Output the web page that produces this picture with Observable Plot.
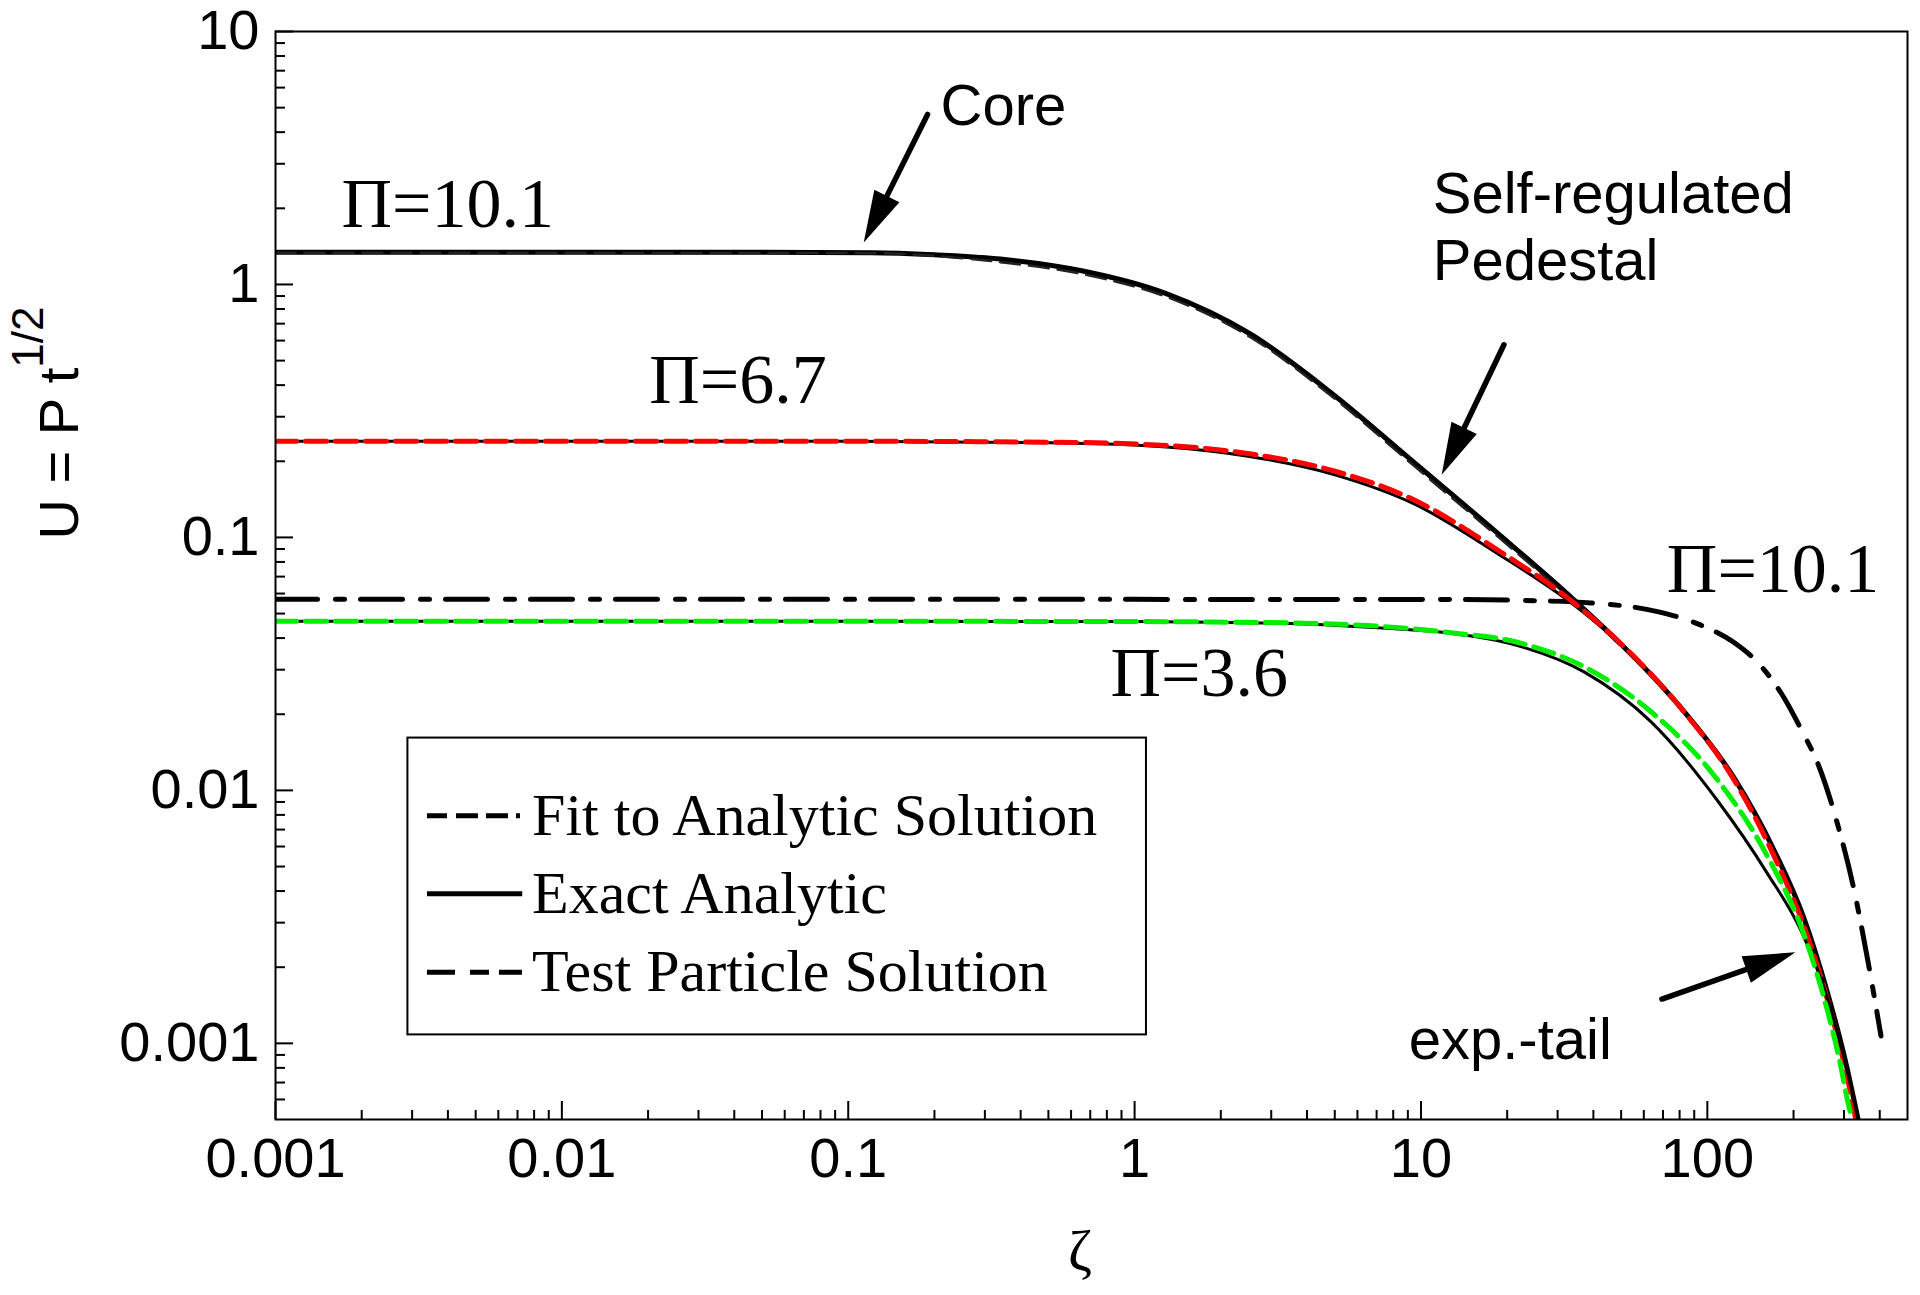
<!DOCTYPE html>
<html>
<head>
<meta charset="utf-8">
<script src="https://cdn.jsdelivr.net/npm/d3@7"></script>
<script src="https://cdn.jsdelivr.net/npm/@observablehq/plot@0.6"></script>
<style>
  html, body { margin: 0; padding: 0; background: white; overflow: hidden; }
</style>
</head>
<body>
<div id="chart"></div>
<script>
// ---------- axis ticks ----------
const xMajor = [0.001, 0.01, 0.1, 1, 10, 100];
const xTickLabels = ["0.001", "0.01", "0.1", "1", "10", "100"];
const yMajor = [0.001, 0.01, 0.1, 1, 10];
const yTickLabels = ["0.001", "0.01", "0.1", "1", "10"];

// ---------- series (ζ, U) ----------
// Π=10.1 exact analytic (black solid)
const zetaExact101 = [0.001, 0.05, 0.12, 0.2, 0.34, 0.66, 1.29, 2.52, 4.9, 9.55, 18.6, 33.9, 50, 70, 83, 124, 171, 218, 263, 300, 340];
const uExact101    = [1.34, 1.34, 1.335, 1.31, 1.26, 1.13, 0.92, 0.64, 0.37, 0.196, 0.1035, 0.0572, 0.0378, 0.0255, 0.0205, 0.0112, 0.0058, 0.0031, 0.00158, 0.0009, 0.00047];
// Π=10.1 test particle (black dashed)
const zetaTest101 = [0.001, 0.12, 0.2, 0.34, 0.66, 1.29, 2.52, 4.9, 9.55, 18.6, 33.9, 50];
const uTest101    = [1.335, 1.33, 1.297, 1.225, 1.098, 0.894, 0.622, 0.36, 0.19, 0.1005, 0.0558, 0.0372];
// Π=6.7 exact analytic (black solid)
const zetaExact67 = [0.001, 0.1, 0.508, 1.29, 2.52, 4.9, 9.55, 18.6, 33.9, 48.5, 83, 124, 171, 218, 263, 300, 340];
const uExact67    = [0.24, 0.24, 0.237, 0.228, 0.209, 0.178, 0.135, 0.086, 0.0545, 0.0388, 0.0204, 0.0112, 0.0058, 0.0031, 0.00158, 0.0009, 0.00047];
// Π=6.7 test particle (red dashed)
const zetaTest67 = [0.001, 0.1, 0.508, 1.29, 2.52, 4.9, 9.55, 18.6, 33.9, 48.5, 83, 124, 171, 218, 263, 317, 330];
const uTest67    = [0.24, 0.24, 0.238, 0.231, 0.214, 0.184, 0.14, 0.0889, 0.0556, 0.0392, 0.0204, 0.011, 0.0055, 0.00288, 0.00148, 0.00063, 0.0005];
// Π=3.6 exact analytic (black solid)
const zetaExact36 = [0.001, 0.1, 1, 1.88, 3.9, 7.9, 12.7, 21.7, 37.1, 63.5, 108.6, 162, 212, 263, 300, 340];
const uExact36    = [0.0466, 0.0466, 0.0465, 0.0462, 0.0455, 0.0436, 0.0418, 0.0374, 0.0294, 0.0187, 0.0091, 0.0047, 0.0028, 0.0015, 0.00088, 0.00047];
// Π=3.6 test particle (green dashed)
const zetaTest36 = [0.001, 0.1, 1, 1.88, 3.9, 7.9, 12.7, 21.7, 37.1, 63.5, 108.6, 162, 218, 263, 290, 313, 322];
const uTest36    = [0.0466, 0.0466, 0.0465, 0.0463, 0.0458, 0.0442, 0.042, 0.0385, 0.0308, 0.0205, 0.011, 0.0055, 0.00267, 0.00134, 0.00085, 0.000556, 0.0005];
// Π=10.1 fit to analytic solution (black dash-dot)
const zetaFit101 = [0.001, 1, 12.7, 25, 39.2, 67, 95, 124, 150, 185, 215, 243, 283.5, 326, 363, 404];
const uFit101    = [0.0569, 0.0569, 0.0568, 0.0562, 0.0551, 0.0509, 0.045, 0.0384, 0.032, 0.0233, 0.017, 0.0128, 0.0075, 0.004, 0.00214, 0.00107];

// ---------- annotations ----------
const piLabels = ["Π=10.1", "Π=6.7", "Π=3.6", "Π=10.1"];
const piZeta   = [0.0017, 0.0202, 0.824, 72.2];
const piU      = [1.686, 0.339, 0.0237, 0.0606];

const noteLabels = ["Core", "Self-regulated", "Pedestal", "exp.-tail"];
const noteZeta   = [0.21, 10.99, 10.99, 9.06];
const noteU      = [4.27, 1.915, 1.04, 0.000867];

const arrowFromZeta = [0.19, 19.56, 69.7];
const arrowFromU    = [4.68, 0.575, 0.00149];
const arrowToZeta   = [0.1137, 11.86, 203.7];
const arrowToU      = [1.457, 0.176, 0.00228];

const legendLabels = ["Fit to Analytic Solution", "Exact Analytic", "Test Particle Solution"];
const legendRowU   = [0.00794, 0.0039, 0.00191];
const legendBoxZeta = [0.0029, 1.1];
const legendBoxU    = [0.00108, 0.0161];
const legendSampleZeta = [0.00338, 0.00727];
const legendTextZeta = 0.00787;

// ---------- build rows ----------
const rows = (zs, us) => zs.map((z, i) => ({z, u: us[i]}));
const exact101 = rows(zetaExact101, uExact101);
const test101 = rows(zetaTest101, uTest101);
const exact67 = rows(zetaExact67, uExact67);
const test67 = rows(zetaTest67, uTest67);
const exact36 = rows(zetaExact36, uExact36);
const test36 = rows(zetaTest36, uTest36);
const fit101 = rows(zetaFit101, uFit101);

const xMinor = [];
for (const d of xMajor) for (let m = 2; m <= 9; m++) { const v = d * m; if (v < 500) xMinor.push(v); }
const yMinor = [];
for (const d of [0.0001, 0.001, 0.01, 0.1, 1]) for (let m = 2; m <= 9; m++) { const v = d * m; if (v > 0.00055 && v < 10) yMinor.push(v); }

const xLab = new Map(xMajor.map((d, i) => [d, xTickLabels[i]]));
const yLab = new Map(yMajor.map((d, i) => [d, yTickLabels[i]]));

const W = 1920, H = 1295, mL = 275, mR = 13, mT = 31, mB = 176;
const frameW = W - mL - mR, frameH = H - mT - mB;

const lineOpts = {x: "z", y: "u", curve: "monotone-x", clip: true, fill: "none", strokeLinejoin: "round"};

// custom arrows with filled heads
function arrowMark(index, scales) {
  const g = d3.create("svg:g").attr("fill", "black").attr("stroke", "black");
  arrowFromZeta.forEach((_, i) => {
    const x1 = scales.x(arrowFromZeta[i]), y1 = scales.y(arrowFromU[i]);
    const x2 = scales.x(arrowToZeta[i]), y2 = scales.y(arrowToU[i]);
    const dx = x2 - x1, dy = y2 - y1, L = Math.hypot(dx, dy);
    const ux = dx / L, uy = dy / L, hl = 52, hw = 14;
    const bx = x2 - ux * hl, by = y2 - uy * hl;
    g.append("line").attr("x1", x1).attr("y1", y1).attr("x2", bx + ux * 4).attr("y2", by + uy * 4)
      .attr("stroke-width", 5.5).attr("stroke-linecap", "round");
    g.append("path").attr("stroke", "none")
      .attr("d", `M${x2},${y2}L${bx - uy * hw},${by + ux * hw}L${bx + uy * hw},${by - ux * hw}Z`);
  });
  return g.node();
}

function titles() {
  const g = d3.create("svg:g").attr("fill", "black");
  const t = g.append("text")
    .attr("transform", "translate(78,423) rotate(-90)")
    .attr("text-anchor", "middle")
    .attr("font-family", "Liberation Sans, Arial, sans-serif")
    .attr("font-size", 56);
  t.append("tspan").text("U = P t");
  t.append("tspan").attr("dy", -35).attr("font-size", 44).text("1/2");
  g.append("text")
    .attr("x", 1080).attr("y", 1270)
    .attr("text-anchor", "middle")
    .attr("font-family", "Liberation Serif, Times New Roman, serif")
    .attr("font-size", 58)
    .text("ζ");
  return g.node();
}

const legendRows = legendLabels.map((label, i) => ({label, u: legendRowU[i]}));
const legendDash = ["20,9,22,8,22,8,4,30", null, "28,15,19,10,23,30"];

const plot = Plot.plot({
  width: W, height: H,
  marginLeft: mL, marginRight: mR, marginTop: mT, marginBottom: mB,
  x: {type: "log", domain: [0.001, 500]},
  y: {type: "log", domain: [0.0005, 10]},
  style: {fontFamily: "Liberation Sans, Arial, sans-serif", color: "black", background: "white", overflow: "visible"},
  marks: [
    // ticks (inward)
    Plot.tickX(xMajor, {x: d => d, stroke: "black", strokeWidth: 2, insetTop: frameH - 18}),
    Plot.tickX(xMinor, {x: d => d, stroke: "black", strokeWidth: 2, insetTop: frameH - 9}),
    Plot.tickY(yMajor, {y: d => d, stroke: "black", strokeWidth: 2, insetRight: frameW - 18}),
    Plot.tickY(yMinor, {y: d => d, stroke: "black", strokeWidth: 2, insetRight: frameW - 10}),
    Plot.axisX(xMajor, {tickSize: 0, tickPadding: 18, tickFormat: d => xLab.get(d), fontSize: 56, label: null}),
    Plot.axisY(yMajor, {tickSize: 0, tickPadding: 16, tickFormat: d => yLab.get(d), fontSize: 56, label: null}),

    // curves
    Plot.line(fit101, {...lineOpts, stroke: "black", strokeWidth: 5, strokeDasharray: "42,18,9,16"}),
    Plot.line(exact101, {...lineOpts, stroke: "black", strokeWidth: 5}),
    Plot.line(test101, {...lineOpts, stroke: "#222", strokeWidth: 2.5, strokeDasharray: "20,9"}),
    Plot.line(exact67, {...lineOpts, stroke: "black", strokeWidth: 3}),
    Plot.line(test67, {...lineOpts, stroke: "#ff0000", strokeWidth: 5, strokeDasharray: "21,9"}),
    Plot.line(exact36, {...lineOpts, stroke: "black", strokeWidth: 3}),
    Plot.line(test36, {...lineOpts, stroke: "#00ee00", strokeWidth: 5, strokeDasharray: "21,9"}),

    // legend
    Plot.rect([0], {x1: () => legendBoxZeta[0], x2: () => legendBoxZeta[1], y1: () => legendBoxU[0], y2: () => legendBoxU[1], fill: "white", stroke: "black", strokeWidth: 2}),
    ...legendRows.map((r, i) => Plot.link([r], {x1: () => legendSampleZeta[0], x2: () => legendSampleZeta[1], y1: "u", y2: "u", stroke: "black", strokeWidth: 5, strokeDasharray: legendDash[i]})),
    Plot.text(legendRows, {x: () => legendTextZeta, y: "u", text: "label", textAnchor: "start", lineAnchor: "middle", fontFamily: "Liberation Serif, Times New Roman, serif", fontSize: 60, fill: "black"}),

    // annotations
    Plot.text(piLabels, {x: (d, i) => piZeta[i], y: (d, i) => piU[i], text: d => d, textAnchor: "start", lineAnchor: "bottom", fontFamily: "Liberation Serif, Times New Roman, serif", fontSize: 70, fill: "black"}),
    Plot.text(noteLabels, {x: (d, i) => noteZeta[i], y: (d, i) => noteU[i], text: d => d, textAnchor: "start", lineAnchor: "bottom", fontFamily: "Liberation Sans, Arial, sans-serif", fontSize: 58, fill: "black"}),
    arrowMark,
    titles,

    Plot.frame({stroke: "black", strokeWidth: 2})
  ]
});

document.getElementById("chart").appendChild(plot);
</script>
</body>
</html>
